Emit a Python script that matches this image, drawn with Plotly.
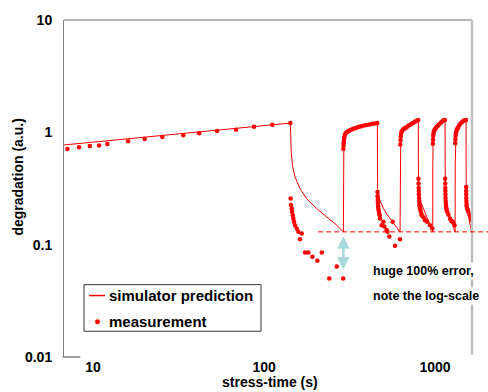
import plotly.graph_objects as go
import numpy as np

# ---------------- data ----------------
sim_t = [6.76, 142.5,
         143.2, 144.2, 146.6, 151.7, 162.3, 177.4, 202.6, 231.8, 266.1, 290.9,
         291.3, 292.0, 293.0, 295.0, 297.7, 307.0, 325.6, 356.0, 398.7, 459.7,
         460.5, 461.5, 475.0, 498.6, 531.0, 560.0, 595.0, 624.0,
         625.0, 626.5, 630.0, 647.0, 683.0, 730.0, 798.0,
         799.0, 800.0, 820.0, 854.0, 914.0, 969.0,
         970.0, 972.0, 975.0, 1000.0, 1045.0, 1144.0,
         1145.5, 1147.0, 1160.0, 1180.0, 1252.0, 1310.0,
         1311.5, 1313.0, 1325.0, 1350.0, 1400.0, 1517.0,
         1519.0, 1521.0, 1545.0, 1587.0, 1639.0]
sim_y = [0.772, 1.209,
         0.935, 0.665, 0.507, 0.40, 0.315, 0.257, 0.21, 0.177, 0.149, 0.13,
         0.55, 0.80, 0.86, 0.93, 0.966, 1.014, 1.069, 1.123, 1.16, 1.209,
         0.60, 0.315, 0.25, 0.21, 0.18, 0.16, 0.143, 0.13,
         0.50, 0.79, 0.935, 1.035, 1.107, 1.184, 1.295,
         0.60, 0.294, 0.245, 0.21, 0.16, 0.13,
         0.50, 0.79, 0.966, 1.07, 1.16, 1.295,
         0.60, 0.294, 0.25, 0.21, 0.16, 0.13,
         0.50, 0.80, 0.95, 1.07, 1.18, 1.295,
         0.60, 0.294, 0.23, 0.16, 0.13]

meas_t = [7.08, 8.28, 9.57, 10.84, 12.12, 16.02, 20.05, 25.4, 33.7, 41.7, 53.1, 68.6, 87.4, 111.8, 142.5,
          # relax 1
          143.0, 143.6, 145.1, 145.8, 147.2, 148.3, 149.7, 151.7, 155.2, 158.7, 166.1, 162.3,
          173.8, 181.6, 191.7, 205.0, 217.5, 266.1, 240.6, 290.0,
          # stress 2
          291.0, 291.5, 292.0, 293.0, 294.0, 295.0, 297.0, 300.0, 304.0, 308.0, 313.0, 318.0,
          325.0, 332.0, 340.0, 350.0, 360.0, 372.0, 385.0, 400.0, 415.0, 430.0, 445.0, 459.0,
          # relax 2
          460.5, 461.0, 462.0, 463.0, 464.5, 466.0, 468.0, 471.0, 474.0, 476.0, 487.0, 499.0,
          505.0, 520.0, 526.0, 540.0, 565.0, 583.0, 624.0,
          # stress 3
          626.0, 628.0, 630.0, 633.0, 637.0, 642.0, 648.0, 656.0, 665.0, 675.0, 687.0, 700.0,
          715.0, 730.0, 748.0, 765.0, 782.0, 797.0,
          # relax 3
          800.0, 801.0, 802.0, 803.0, 804.0, 806.0, 808.0, 810.0, 813.0, 817.0, 822.0, 830.0,
          836.0, 855.0, 874.0, 900.0, 935.0, 964.0,
          # stress 4
          971.0, 973.0, 976.0, 980.0, 985.0, 992.0, 1000.0, 1010.0, 1022.0, 1035.0, 1050.0,
          1068.0, 1088.0, 1108.0, 1127.0, 1143.0,
          # relax 4
          1146.0, 1147.0, 1148.0, 1149.0, 1150.0, 1152.0, 1154.0, 1157.0, 1160.0, 1164.0,
          1170.0, 1180.0, 1197.0, 1224.0, 1250.0, 1269.0, 1300.0,
          # stress 5
          1312.0, 1315.0, 1319.0, 1325.0, 1332.0, 1342.0, 1355.0, 1370.0, 1388.0, 1410.0,
          1435.0, 1462.0, 1490.0, 1516.0,
          # relax 5
          1519.0, 1520.0, 1521.0, 1523.0, 1525.0, 1528.0, 1531.0, 1540.0, 1550.0, 1566.0,
          1590.0, 1602.0, 1625.0, 1639.0]
meas_y = [0.711, 0.736, 0.756, 0.763, 0.788, 0.833, 0.872, 0.909, 0.941, 0.980, 1.027, 1.056, 1.123, 1.170, 1.209,
          0.257, 0.225, 0.21, 0.196, 0.183, 0.171, 0.16, 0.149, 0.139, 0.13, 0.126, 0.112,
          0.085, 0.085, 0.078, 0.072, 0.085, 0.064, 0.050, 0.050,
          0.71, 0.76, 0.80, 0.84, 0.88, 0.91, 0.95, 0.98, 1.00, 1.015, 1.03, 1.045,
          1.06, 1.075, 1.09, 1.105, 1.12, 1.135, 1.15, 1.16, 1.175, 1.19, 1.20, 1.21,
          0.294, 0.27, 0.25, 0.235, 0.22, 0.21, 0.20, 0.19, 0.183, 0.171, 0.149, 0.16,
          0.145, 0.135, 0.13, 0.118, 0.16, 0.098, 0.112,
          0.78, 0.85, 0.92, 0.97, 1.01, 1.03, 1.05, 1.07, 1.09, 1.10, 1.12, 1.15,
          1.17, 1.19, 1.22, 1.25, 1.27, 1.29,
          0.386, 0.35, 0.32, 0.30, 0.28, 0.26, 0.245, 0.23, 0.22, 0.21, 0.20, 0.19,
          0.183, 0.175, 0.165, 0.16, 0.149, 0.139,
          0.79, 0.86, 0.93, 0.98, 1.02, 1.05, 1.07, 1.09, 1.12, 1.14, 1.17,
          1.20, 1.23, 1.26, 1.28, 1.29,
          0.386, 0.35, 0.32, 0.30, 0.28, 0.26, 0.245, 0.23, 0.22, 0.21,
          0.20, 0.195, 0.185, 0.17, 0.162, 0.16, 0.149,
          0.80, 0.87, 0.93, 0.98, 1.02, 1.06, 1.09, 1.12, 1.16, 1.20,
          1.23, 1.26, 1.28, 1.29,
          0.326, 0.30, 0.28, 0.26, 0.245, 0.23, 0.22, 0.21, 0.205, 0.196,
          0.185, 0.18, 0.17, 0.165]

x_ticks = [10, 100, 1000]
x_ticktext = ["10", "100", "1000"]
y_ticks = [0.01, 0.1, 1, 10]
y_ticktext = ["0.01", "0.1", "1", "10"]
legend_names = ["simulator prediction", "measurement"]

err_level = 0.13          # dashed reference level
err_arrow_t = 290.9       # time of the error arrow
err_arrow_y = [0.1226, 0.0601]
x_range = [0.830, 3.216]  # log10
y_range = [-2, 1]         # log10

FONT = "Liberation Sans"
RED = "#ff0000"

# plot-area geometry in pixels (for paper-coordinate placement)
W, H = 488, 392
L, R, T, B = 64, 16, 17, 35
PW, PH = W - L - R, H - T - B


def px(xp):
    return (xp - L) / PW


def py(yp):
    return (H - B - yp) / PH


fig = go.Figure()
fig.add_trace(go.Scatter(x=sim_t, y=sim_y, mode="lines", name=legend_names[0],
                         line=dict(color=RED, width=1), showlegend=False))
fig.add_trace(go.Scatter(x=meas_t, y=meas_y, mode="markers", name=legend_names[1],
                         marker=dict(color=RED, size=4.5, symbol="circle"), showlegend=False))

fig.update_layout(
    width=W, height=H,
    margin=dict(l=L, r=R, t=T, b=B),
    plot_bgcolor="white", paper_bgcolor="white",
    font=dict(family=FONT, color="black"),
    showlegend=False,
    xaxis=dict(type="log", range=x_range, tickvals=x_ticks, ticktext=x_ticktext,
               showgrid=False, zeroline=False, showline=False, ticks="",
               tickfont=dict(family=FONT, size=14, weight="bold")),
    yaxis=dict(type="log", range=y_range, tickvals=y_ticks, ticktext=y_ticktext,
               showgrid=False, zeroline=False, showline=True, linecolor="#808080",
               linewidth=1, ticks="", ticklabelstandoff=8,
               tickfont=dict(family=FONT, size=14, weight="bold")),
)

# plot frame: top line and right grey border
fig.add_shape(type="line", xref="paper", yref="paper", x0=0, x1=1, y0=1, y1=1,
              line=dict(color="#707070", width=1))
fig.add_shape(type="line", xref="paper", yref="paper", x0=1, x1=1, y0=0.006, y1=1,
              line=dict(color="#c0c0c0", width=2.5))
fig.add_shape(type="line", xref="paper", yref="paper", x0=-0.003, x1=0.04, y0=0, y1=0,
              line=dict(color="#404040", width=1))

# dashed error level line (extends to the right edge of the picture)
yfrac = (np.log10(err_level) - y_range[0]) / (y_range[1] - y_range[0])
xfrac0 = (np.log10(207) - x_range[0]) / (x_range[1] - x_range[0])
fig.add_shape(type="line", xref="paper", yref="paper", x0=xfrac0, x1=1.05, y0=yfrac, y1=yfrac,
              line=dict(color=RED, width=1, dash="5px,3px"))

# double-headed light blue arrow
fig.add_annotation(x=np.log10(err_arrow_t), y=np.log10(err_arrow_y[1]),
                   ax=np.log10(err_arrow_t), ay=np.log10(err_arrow_y[0]),
                   xref="x", yref="y", axref="x", ayref="y", text="",
                   showarrow=True, arrowhead=2, arrowside="end+start",
                   arrowsize=1, arrowwidth=2.5, arrowcolor="#a8d8dc")

# text note with white background
fig.add_annotation(x=px(371), y=py(270), xref="paper", yref="paper", xanchor="left", yanchor="middle",
                   text="huge 100% error,", showarrow=False, bgcolor="white",
                   font=dict(family=FONT, size=12.5, weight="bold"))
fig.add_annotation(x=px(371), y=py(295), xref="paper", yref="paper", xanchor="left", yanchor="middle",
                   text="note the log-scale", showarrow=False, bgcolor="white",
                   font=dict(family=FONT, size=12.5, weight="bold"))

# legend (drawn as a boxed key)
fig.add_shape(type="rect", xref="paper", yref="paper", x0=px(84), x1=px(261), y0=py(331), y1=py(284),
              line=dict(color="#333333", width=1), fillcolor="white", layer="above")
fig.add_shape(type="line", xref="paper", yref="paper", x0=px(89), x1=px(105), y0=py(295), y1=py(295),
              line=dict(color=RED, width=1.5), layer="above")
fig.add_shape(type="circle", xref="paper", yref="paper", x0=px(95), x1=px(100), y0=py(324), y1=py(319),
              line=dict(color=RED, width=0), fillcolor=RED, layer="above")
fig.add_annotation(x=px(107), y=py(295), xref="paper", yref="paper", xanchor="left", yanchor="middle",
                   text=legend_names[0], showarrow=False,
                   font=dict(family=FONT, size=15, weight="bold"))
fig.add_annotation(x=px(107), y=py(321.5), xref="paper", yref="paper", xanchor="left", yanchor="middle",
                   text=legend_names[1], showarrow=False,
                   font=dict(family=FONT, size=15, weight="bold"))

# axis titles
fig.add_annotation(x=px(269.7), y=py(382), xref="paper", yref="paper",
                   text="stress-time (s)", showarrow=False, xanchor="center", yanchor="middle",
                   font=dict(family=FONT, size=14, weight="bold"))
fig.add_annotation(x=px(18), y=py(176), xref="paper", yref="paper",
                   text="degradation (a.u.)", showarrow=False, textangle=-90,
                   xanchor="center", yanchor="middle",
                   font=dict(family=FONT, size=14, weight="bold"))

fig.write_html("out.html")
